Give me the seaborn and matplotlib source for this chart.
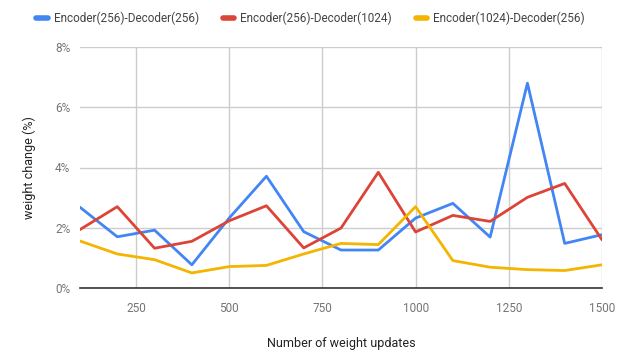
import numpy as np
import pandas as pd
import seaborn as sns
import matplotlib.pyplot as plt
from matplotlib.ticker import FuncFormatter

# values (weight change in %)
updates = [100, 200, 300, 400, 500, 600, 700, 800, 900, 1000, 1100, 1200, 1300, 1400, 1500]
enc256_dec256 = [2.68, 1.70, 1.92, 0.77, 2.32, 3.71, 1.87, 1.26, 1.26, 2.32, 2.81, 1.69, 6.80, 1.48, 1.77]
enc256_dec1024 = [1.94, 2.70, 1.32, 1.55, 2.23, 2.73, 1.33, 1.99, 3.84, 1.86, 2.41, 2.21, 3.01, 3.47, 1.60]
enc1024_dec256 = [1.56, 1.13, 0.94, 0.50, 0.71, 0.75, 1.13, 1.48, 1.44, 2.70, 0.91, 0.69, 0.61, 0.58, 0.77]

series_names = ["Encoder(256)-Decoder(256)", "Encoder(256)-Decoder(1024)", "Encoder(1024)-Decoder(256)"]
colors = ["#4285F4", "#DB4437", "#F4B400"]

df = pd.DataFrame({
    "updates": updates * 3,
    "change": enc256_dec256 + enc256_dec1024 + enc1024_dec256,
    "model": [series_names[0]] * 15 + [series_names[1]] * 15 + [series_names[2]] * 15,
})

sns.set_style("white")
plt.rcParams["font.family"] = ["Roboto", "DejaVu Sans"]

fig = plt.figure(figsize=(6.21, 3.54), dpi=100)
ax = fig.add_axes([80 / 621, 66 / 354, 522 / 621, 241 / 354])

sns.lineplot(data=df, x="updates", y="change", hue="model", palette=colors,
             linewidth=2, ax=ax, legend=False)

ax.set_xlim(100, 1500)
ax.set_ylim(0, 8)
ax.set_xticks([250, 500, 750, 1000, 1250, 1500])
ax.set_yticks([0, 2, 4, 6, 8])
ax.yaxis.set_major_formatter(FuncFormatter(lambda v, p: f"{v:.0f}%"))
ax.grid(True, color="#cccccc", linewidth=1)
ax.set_axisbelow(True)
for s in ["top", "left", "right"]:
    ax.spines[s].set_visible(False)
ax.spines["bottom"].set_color("#333333")
ax.spines["bottom"].set_linewidth(1.2)
ax.tick_params(axis="both", length=0, labelsize=8.5, labelcolor="#757575")
ax.tick_params(axis="x", pad=10)
ax.tick_params(axis="y", pad=7)

ax.set_xlabel("Number of weight updates", fontsize=9, color="#222222", labelpad=16)
ax.set_ylabel("weight change (%)", fontsize=9, color="#222222", labelpad=14)

handles = [plt.Line2D([0], [0], color=c, linewidth=4) for c in colors]
fig.legend(handles, series_names, loc="center", bbox_to_anchor=(0.5, 1 - 18 / 354),
           ncol=3, frameon=False, fontsize=8.5, labelcolor="#444444",
           handlelength=1.0, handletextpad=0.5, columnspacing=2.0)

fig.savefig("out.png", dpi=100)
